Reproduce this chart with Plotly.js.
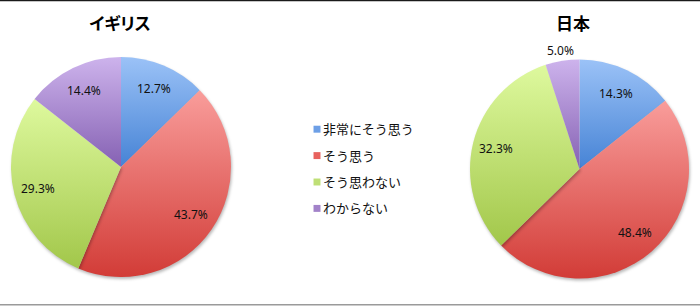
<!DOCTYPE html>
<html>
<head>
<meta charset="utf-8">
<script src="https://cdn.plot.ly/plotly-3.0.1.min.js"></script>
<style>
  html, body { margin: 0; padding: 0; background: #fff; overflow: hidden; }
  #chart { width: 700px; height: 306px; }
  /* small swatches, tucked close to their text */
  #chart .legendpie { transform: translate(22px, 0) scale(0.58); }
  #chart .legendtext { transform: translate(-12px, -2px); }
  /* proportional kana widths in the panel titles */
  #chart .annotation.panel-title text { font-feature-settings: "palt" 1; }
  /* soft shadow under the lower-right rim of each pie */
  #chart .pielayer .slice:nth-of-type(1) path.surface,
  #chart .pielayer .slice:nth-of-type(2) path.surface,
  #chart .pielayer .slice:nth-of-type(3) path.surface {
    filter: drop-shadow(1.5px 2px 1.5px rgba(0,0,0,0.28));
  }
</style>
</head>
<body>
<svg width="0" height="0" style="position:absolute">
  <defs id="sliceGradients"></defs>
</svg>
<div id="chart"></div>
<script>
// answer categories
const labels = ['非常にそう思う', 'そう思う', 'そう思わない', 'わからない'];
// percentages per country
const ukValues = [12.7, 43.7, 29.3, 14.4];
const jpValues = [14.3, 48.4, 32.3, 5.0];
// panel titles
const ukTitle = 'イギリス';
const jpTitle = '日本';

// slice colours: flat tone plus top/bottom shades for the gradient
const sliceColors = ['#6d9fe6', '#e8625e', '#bfdf76', '#a282c9'];
const shadeTop    = ['#9bc2f7', '#f99d9b', '#def99e', '#cdb3ec'];
const shadeBottom = ['#4683d5', '#d23c37', '#a2c74a', '#8561b3'];

// vertical gradients per slice
const defs = document.getElementById('sliceGradients');
const NS = 'http://www.w3.org/2000/svg';
let css = '';
shadeTop.forEach((top, i) => {
  const g = document.createElementNS(NS, 'linearGradient');
  g.setAttribute('id', 'sliceGrad' + i);
  g.setAttribute('x1', '0'); g.setAttribute('y1', '0');
  g.setAttribute('x2', '0'); g.setAttribute('y2', '1');
  [[0, top], [1, shadeBottom[i]]].forEach(([off, col]) => {
    const s = document.createElementNS(NS, 'stop');
    s.setAttribute('offset', off);
    s.setAttribute('stop-color', col);
    g.appendChild(s);
  });
  defs.appendChild(g);
  css += `#chart .pielayer .slice:nth-of-type(${i + 1}) path.surface { fill: url(#sliceGrad${i}) !important; }\n`;
});
const styleEl = document.createElement('style');
styleEl.textContent = css;
document.head.appendChild(styleEl);

const W = 700, H = 306;
const numFont = { family: 'Noto Sans, DejaVu Sans, sans-serif', size: 12, color: '#111' };
const jpFont = 'Noto Sans CJK JP, Noto Sans, sans-serif';

const legendLabels = labels.map(l => '<span style="font-size:13px">' + l + '</span>');

// pie placement in pixels: centre and radius
const ukPie = { cx: 121, cy: 167, r: 110 };
const jpPie = { cx: 579.5, cy: 169, r: 109.5 };

function domainOf(p) {
  return {
    x: [(p.cx - p.r) / W, (p.cx + p.r) / W],
    y: [(H - p.cy - p.r) / H, (H - p.cy + p.r) / H]
  };
}

function pieTrace(values, pie, showlegend) {
  return {
    type: 'pie',
    labels: legendLabels,
    values: values,
    sort: false,
    direction: 'clockwise',
    rotation: 0,
    domain: domainOf(pie),
    marker: { colors: sliceColors, line: { width: 0 } },
    textinfo: 'none',
    hoverinfo: 'label+value',
    showlegend: showlegend,
    automargin: false
  };
}

// value labels along each slice's bisector (clockwise from 12 o'clock)
function valueLabels(values, pie, radii) {
  const total = values.reduce((a, b) => a + b, 0);
  let cum = 0;
  return values.map((v, i) => {
    const mid = (cum + v / 2) / total * 2 * Math.PI;
    cum += v;
    const rr = radii[i] * pie.r;
    const px = pie.cx + rr * Math.sin(mid);
    const py = pie.cy - rr * Math.cos(mid);
    return {
      text: v.toFixed(1) + '%',
      x: px / W, y: 1 - py / H, xref: 'paper', yref: 'paper',
      xanchor: 'center', yanchor: 'middle', showarrow: false,
      font: numFont
    };
  });
}

const data = [
  pieTrace(ukValues, ukPie, true),
  pieTrace(jpValues, jpPie, false)
];

const titleFont = { family: jpFont, size: 17, color: '#000', weight: 'bold' };

const layout = {
  width: W,
  height: H,
  margin: { l: 0, r: 0, t: 0, b: 0 },
  paper_bgcolor: '#fff',
  font: { family: jpFont, color: '#111' },
  showlegend: true,
  legend: {
    x: 295 / W, xanchor: 'left',
    y: 1 - 111 / H, yanchor: 'top',
    font: { family: jpFont, size: 18, color: '#111' },
    bgcolor: 'rgba(0,0,0,0)',
    borderwidth: 0
  },
  annotations: [
    { text: ukTitle, x: 120 / W, y: 1 - 23 / H, xref: 'paper', yref: 'paper',
      xanchor: 'center', yanchor: 'middle', showarrow: false, font: titleFont },
    { text: jpTitle, x: 573 / W, y: 1 - 23 / H, xref: 'paper', yref: 'paper',
      xanchor: 'center', yanchor: 'middle', showarrow: false, font: titleFont }
  ]
    .concat(valueLabels(ukValues, ukPie, [0.77, 0.77, 0.78, 0.77]))
    .concat(valueLabels(jpValues, jpPie, [0.77, 0.77, 0.79, 1.1])),
  shapes: [
    { type: 'line', xref: 'paper', yref: 'paper', x0: 0, x1: 1, y0: 1, y1: 1,
      line: { color: '#1a1a1a', width: 2.5 } },
    { type: 'line', xref: 'paper', yref: 'paper', x0: 0, x1: 1, y0: 1.2 / H, y1: 1.2 / H,
      line: { color: '#9a9a9a', width: 1.5 } }
  ]
};

Plotly.newPlot('chart', data, layout, { staticPlot: true, displayModeBar: false }).then(gd => {
  // mark the two title annotations so the palt rule applies to them
  const anns = gd.querySelectorAll('.annotation');
  if (anns[0]) anns[0].classList.add('panel-title');
  if (anns[1]) anns[1].classList.add('panel-title');
});
</script>
</body>
</html>
